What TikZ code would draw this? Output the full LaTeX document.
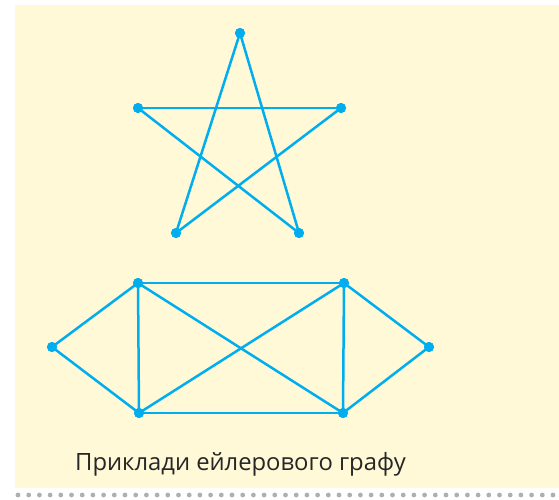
\documentclass[tikz,border=0pt]{standalone}
\usepackage{fontspec}
\setmainfont{Open Sans}
\usepackage{tikz}
\definecolor{bgyellow}{RGB}{255,249,215}
\definecolor{edgeblue}{RGB}{0,174,239}
\definecolor{dotgray}{RGB}{175,175,178}
\tikzset{
  vtx/.style={circle,fill=edgeblue,inner sep=0pt,minimum size=10pt},
  edg/.style={edgeblue,line width=2.5pt}
}
\begin{document}
\begin{tikzpicture}[x=1pt,y=-1pt]
\useasboundingbox (0,0) rectangle (559,500);
\fill[bgyellow] (15,5) rectangle (559,488);
% dotted rule
\foreach \i in {0,...,50}
  \fill[dotgray] (18+\i*10.7,495) circle (2.4);
% star
\node[vtx] (st) at (240,33) {};
\node[vtx] (sl) at (138,108) {};
\node[vtx] (sr) at (341,108) {};
\node[vtx] (sbl) at (176,233) {};
\node[vtx] (sbr) at (299,233) {};
\draw[edg] (st.center) -- (sbl.center);
\draw[edg] (st.center) -- (sbr.center);
\draw[edg] (sl.center) -- (sr.center);
\draw[edg] (sl.center) -- (sbr.center);
\draw[edg] (sr.center) -- (sbl.center);
% lower graph
\node[vtx] (a) at (52,347) {};
\node[vtx] (b) at (138,283) {};
\node[vtx] (c) at (344,283) {};
\node[vtx] (d) at (429,347) {};
\node[vtx] (e) at (139,413) {};
\node[vtx] (f) at (343,413) {};
\draw[edg] (a.center) -- (b.center);
\draw[edg] (a.center) -- (e.center);
\draw[edg] (b.center) -- (c.center);
\draw[edg] (b.center) -- (e.center);
\draw[edg] (b.center) -- (f.center);
\draw[edg] (c.center) -- (e.center);
\draw[edg] (c.center) -- (f.center);
\draw[edg] (c.center) -- (d.center);
\draw[edg] (d.center) -- (f.center);
\draw[edg] (e.center) -- (f.center);
\node[vtx] at (st) {};
\node[vtx] at (sl) {};
\node[vtx] at (sr) {};
\node[vtx] at (sbl) {};
\node[vtx] at (sbr) {};
\node[vtx] at (a) {};
\node[vtx] at (b) {};
\node[vtx] at (c) {};
\node[vtx] at (d) {};
\node[vtx] at (e) {};
\node[vtx] at (f) {};
% caption
\node[anchor=base west,inner sep=0pt,text=black!85,font=\fontsize{23.8}{28}\selectfont] (cap) at (75,470) {Приклади ейлерового графу};
\end{tikzpicture}
\end{document}
